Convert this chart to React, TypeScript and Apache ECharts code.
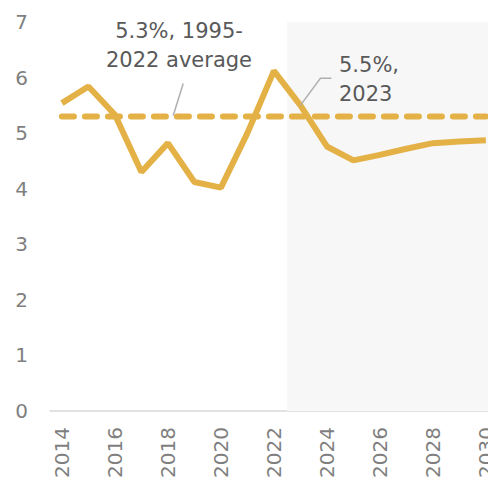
import React, { useEffect, useRef } from "react";
import * as echarts from "echarts";

const years = [2014, 2015, 2016, 2017, 2018, 2019, 2020, 2021, 2022, 2023, 2024, 2025, 2026, 2027, 2028, 2029, 2030];
const growth = [5.54, 5.84, 5.33, 4.3, 4.82, 4.12, 4.02, 5.0, 6.12, 5.5, 4.76, 4.51, 4.61, 4.72, 4.82, 4.85, 4.87];
const averageValue = 5.3;
const xTickLabels = [2014, 2016, 2018, 2020, 2022, 2024, 2026, 2028, 2030];
const yTickLabels = [0, 1, 2, 3, 4, 5, 6, 7];
const forecastStart = 2022.5;
const avgLabel = ["5.3%, 1995-", "2022 average"];
const lastLabel = ["5.5%,", "2023"];

const FONT = "DejaVu Sans";
const LINE_COLOR = "#E3B145";

export default function App() {
  const ref = useRef<HTMLDivElement>(null);
  useEffect(() => {
    if (!ref.current) return;
    const chart = echarts.init(ref.current, null, { renderer: "svg" });
    const xMin = 2013.55;
    const xMax = 2030.08;
    chart.setOption({
      animation: false,
      grid: { left: 50, right: 0, top: 22, bottom: 73, containLabel: false, outerBoundsMode: "none" },
      xAxis: {
        type: "value",
        min: xMin,
        max: xMax,
        axisLine: { show: true, lineStyle: { color: "#d9d9d9", width: 1.5 } },
        axisTick: { show: false },
        splitLine: { show: false },
        axisLabel: {
          customValues: xTickLabels,
          rotate: 90,
          margin: 16,
          color: "#7f7f7f",
          fontSize: 20,
          fontFamily: FONT,
          hideOverlap: false,
          formatter: (v: number) => String(v),
        },
      },
      yAxis: {
        type: "value",
        min: 0,
        max: 7,
        interval: 1,
        axisLine: { show: false },
        axisTick: { show: false },
        splitLine: { show: false },
        axisLabel: {
          customValues: yTickLabels,
          margin: 22,
          color: "#7f7f7f",
          fontSize: 20,
          fontFamily: FONT,
        },
      },
      series: [
        {
          type: "line",
          data: years.map((y, i) => [y, growth[i]]),
          symbol: "none",
          lineStyle: { color: LINE_COLOR, width: 6 },
          z: 3,
          markArea: {
            silent: true,
            itemStyle: { color: "#f7f7f7" },
            data: [[{ xAxis: forecastStart, yAxis: 0 }, { xAxis: xMax, yAxis: 7 }]],
            z: 1,
          },
        },
        {
          type: "line",
          data: [
            [years[0], averageValue],
            [years[years.length - 1], averageValue],
          ],
          symbol: "none",
          lineStyle: { color: LINE_COLOR, width: 6, type: [12, 11], cap: "round" },
          z: 4,
        },
      ],
    });

    const p1 = chart.convertToPixel({ gridIndex: 0 }, [2018.2, averageValue]) as number[];
    const p2 = chart.convertToPixel({ gridIndex: 0 }, [2023, 5.5]) as number[];
    const textStyle = { fill: "#595959", fontSize: 21, fontFamily: FONT };
    chart.setOption({
      graphic: [
        {
          type: "line",
          shape: { x1: p1[0] + 10, y1: p1[1] - 33, x2: p1[0], y2: p1[1] - 1 },
          style: { stroke: "#b0b0b0", lineWidth: 1.5 },
          z: 10,
        },
        {
          type: "polyline",
          shape: { points: [[p2[0] + 31, p2[1] - 27], [p2[0] + 20, p2[1] - 27], [p2[0], p2[1]]] },
          style: { stroke: "#b0b0b0", lineWidth: 1.5, fill: null },
          z: 10,
        },
        { type: "text", x: 179, y: 30.5, style: { ...textStyle, text: avgLabel[0], textAlign: "center", textVerticalAlign: "middle" }, z: 10 },
        { type: "text", x: 179, y: 59.7, style: { ...textStyle, text: avgLabel[1], textAlign: "center", textVerticalAlign: "middle" }, z: 10 },
        { type: "text", x: 339, y: 65, style: { ...textStyle, text: lastLabel[0], textAlign: "left", textVerticalAlign: "middle" }, z: 10 },
        { type: "text", x: 339, y: 93.5, style: { ...textStyle, text: lastLabel[1], textAlign: "left", textVerticalAlign: "middle" }, z: 10 },
      ],
    });
    return () => chart.dispose();
  }, []);
  return <div ref={ref} style={{ width: 488, height: 484, position: "absolute", left: 0, top: 0 }} />;
}
